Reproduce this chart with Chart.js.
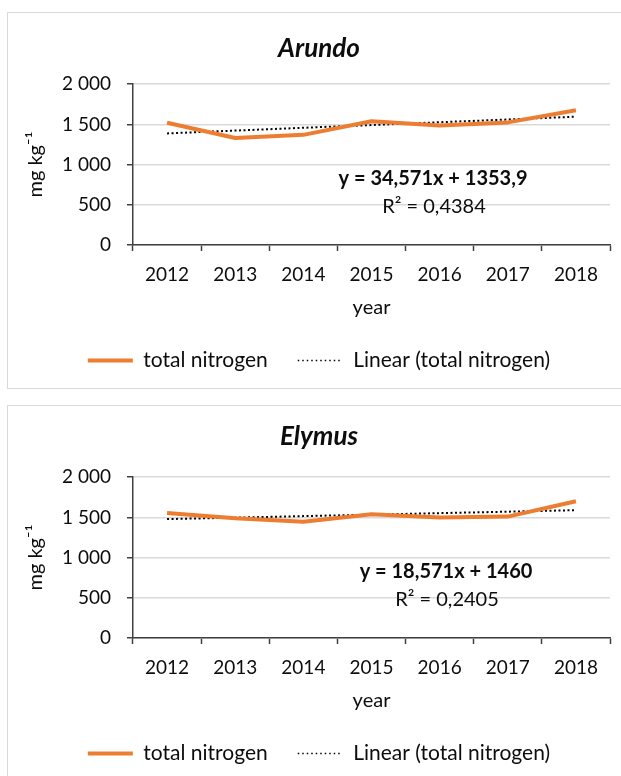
<!DOCTYPE html>
<html>
<head>
<meta charset="utf-8">
<script src="https://cdn.jsdelivr.net/npm/chart.js@4.4.1/dist/chart.umd.min.js"></script>
<style>
  html, body { margin: 0; padding: 0; background: #fff; overflow: hidden; }
  body { width: 621px; height: 776px; position: relative; }
  .panel { position: absolute; left: 7px; width: 640px; border: 1px solid #d9d9d9; background: #fff; }
  #panel-arundo { top: 12px; height: 375px; }
  #panel-elymus { top: 405px; height: 400px; }
  canvas { position: absolute; left: 0; top: 0; }
</style>
</head>
<body>
<div class="panel" id="panel-arundo"><canvas id="chart-arundo" width="622" height="375"></canvas></div>
<div class="panel" id="panel-elymus"><canvas id="chart-elymus" width="622" height="375"></canvas></div>
<script>
// data
const years = ["2012", "2013", "2014", "2015", "2016", "2017", "2018"];
const arundoNitrogen = [1520, 1330, 1370, 1540, 1485, 1525, 1675];
const arundoTrend = [1388, 1423, 1458, 1492, 1527, 1561, 1596];
const elymusNitrogen = [1555, 1490, 1445, 1540, 1500, 1510, 1700];
const elymusTrend = [1479, 1497, 1516, 1534, 1553, 1571, 1590];
const yTickValues = [0, 500, 1000, 1500, 2000];
const yTickLabels = ["0", "500", "1 000", "1 500", "2 000"];

const ORANGE = "#ED7D31";
const TEXT = "#0d0d0d";
const AXIS = "#404040";
const GRID = "#d9d9d9";

Chart.defaults.font.family = "Lato, 'Open Sans', sans-serif";
Chart.defaults.color = TEXT;

// trendline equation text, drawn on top of the plot
const equationPlugin = {
  id: "equation",
  afterDatasetsDraw(chart, args, opts) {
    const ctx = chart.ctx;
    ctx.save();
    ctx.fillStyle = TEXT;
    ctx.textAlign = "center";
    ctx.textBaseline = "middle";
    ctx.font = "bold 20px Lato, sans-serif";
    ctx.fillText(opts.equation, opts.x, opts.y);
    ctx.font = "20px Lato, sans-serif";
    ctx.fillText(opts.r2, opts.x + 1, opts.y + 27.5);
    ctx.restore();
  },
};

function legendLabels(chart) {
  const items = Chart.defaults.plugins.legend.labels.generateLabels(chart);
  items.forEach((item, i) => {
    const ds = chart.data.datasets[i];
    if (ds.borderDash) {
      item.lineDash = [1.5, 3];
      item.lineWidth = 1.5;
    }
  });
  return items;
}

function makeChart(canvasId, title, titlePad, values, trend, eq) {
  const ctx = document.getElementById(canvasId).getContext("2d");
  return new Chart(ctx, {
    type: "line",
    data: {
      labels: years,
      datasets: [
        {
          label: "total nitrogen",
          data: values,
          borderColor: ORANGE,
          backgroundColor: ORANGE,
          borderWidth: 4,
          pointRadius: 0,
          pointStyle: "line",
          borderJoinStyle: "round",
          tension: 0,
        },
        {
          label: "Linear (total nitrogen)",
          data: trend,
          borderColor: "#000",
          backgroundColor: "#000",
          borderWidth: 2,
          borderDash: [2, 2.5],
          pointRadius: 0,
          pointStyle: "line",
          tension: 0,
        },
      ],
    },
    options: {
      responsive: false,
      animation: false,
      devicePixelRatio: 1,
      layout: { padding: { left: 0, right: 0, top: 0, bottom: 7 } },
      scales: {
        x: {
          offset: true,
          grid: {
            offset: true,
            drawOnChartArea: false,
            tickLength: 6,
            tickColor: AXIS,
            tickWidth: 1.5,
          },
          border: { color: AXIS, width: 1.5 },
          ticks: { font: { size: 19 }, padding: 12, maxRotation: 0 },
          title: { display: true, text: "year", font: { size: 20 }, padding: 0 },
          afterFit(scale) {
            scale.height = 75;
          },
        },
        y: {
          min: 0,
          max: 2000,
          afterBuildTicks(scale) {
            scale.ticks = yTickValues.map((v) => ({ value: v }));
          },
          grid: {
            color: GRID,
            lineWidth: 1.5,
            tickLength: 6,
            tickColor: AXIS,
          },
          border: { color: AXIS, width: 1.5 },
          ticks: {
            font: { size: 19 },
            padding: 16,
            callback: (v) => yTickLabels[yTickValues.indexOf(v)],
          },
          title: {
            display: true,
            text: "mg kg\u207B\u00B9",
            font: { size: 20 },
            padding: { top: 16, bottom: 0 },
          },
          afterFit(scale) {
            scale.width = 125;
          },
        },
        // empty strip on the right so the title and legend stay centred on the chart box
        yRight: {
          position: "right",
          grid: { display: false },
          border: { display: false },
          ticks: { display: false },
          afterFit(scale) {
            scale.width = 20;
          },
        },
      },
      plugins: {
        title: {
          display: true,
          text: title,
          font: { size: 26, weight: "bold", style: "italic" },
          color: TEXT,
          padding: titlePad,
        },
        legend: {
          position: "bottom",
          labels: {
            usePointStyle: true,
            pointStyleWidth: 45,
            font: { size: 21 },
            padding: 30,
            color: TEXT,
            generateLabels: legendLabels,
          },
        },
        tooltip: { enabled: false },
        equation: eq,
      },
    },
    plugins: [equationPlugin],
  });
}

makeChart("chart-arundo", "Arundo", { top: 20, bottom: 20 }, arundoNitrogen, arundoTrend, {
  equation: "y = 34,571x + 1353,9",
  r2: "R\u00B2 = 0,4384",
  x: 425,
  y: 166,
});

makeChart("chart-elymus", "Elymus", { top: 15, bottom: 25 }, elymusNitrogen, elymusTrend, {
  equation: "y = 18,571x + 1460",
  r2: "R\u00B2 = 0,2405",
  x: 438,
  y: 166,
});
</script>
</body>
</html>
